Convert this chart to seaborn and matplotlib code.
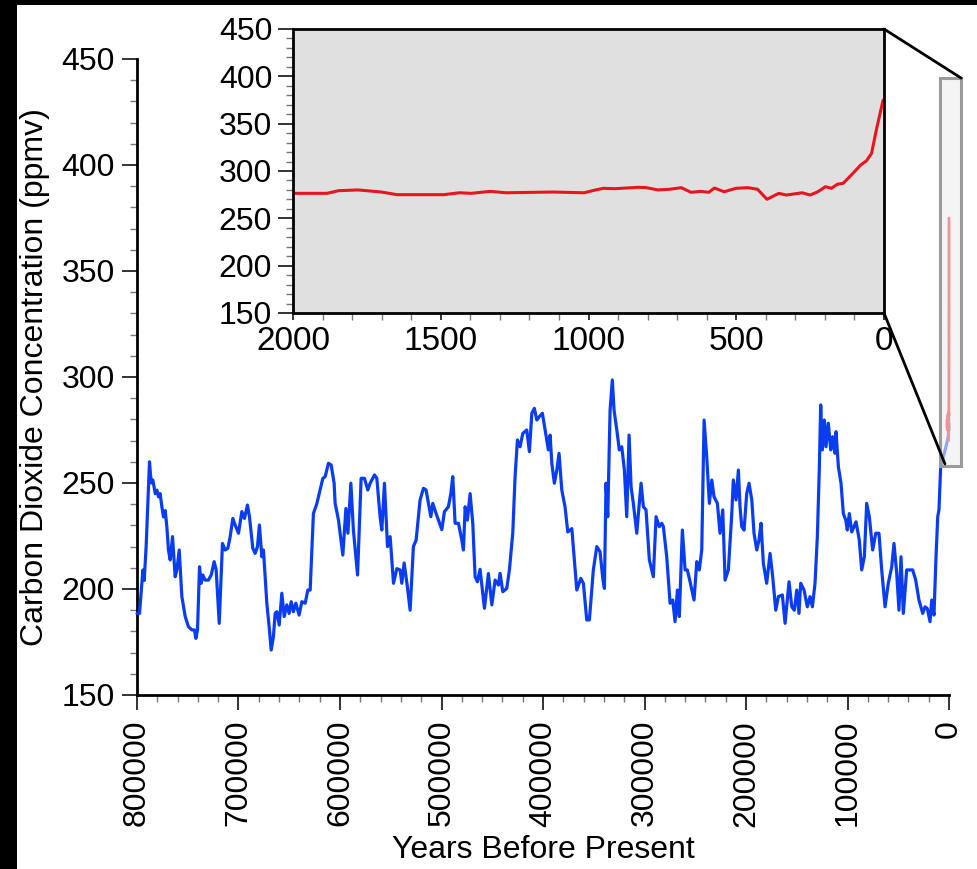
import numpy as np
import matplotlib
matplotlib.use("Agg")
import matplotlib.pyplot as plt
import seaborn as sns
from matplotlib.patches import Rectangle, ConnectionPatch
from matplotlib.ticker import MultipleLocator

# ---------------- data ----------------
# Ice core CO2 record (thousands of years before present, ppmv)
ice_kyr = [800.0, 797.5, 794.2, 792.9, 791.0, 787.7, 786.0, 784.4, 782.0, 780.4, 778.8, 777.2,
           775.5, 773.9, 772.2, 770.6, 769.0, 767.3, 765.0, 762.4, 760.7, 758.4, 755.8, 752.5,
           749.3, 745.9, 743.4, 742.0, 740.4, 738.4, 736.8, 735.1, 732.9, 729.6, 726.9, 724.0,
           722.0, 719.0, 715.8, 713.1, 710.5, 708.2, 705.6, 703.3, 700.0, 696.7, 694.1, 691.2,
           689.2, 685.9, 683.6, 681.3, 679.4, 677.0, 675.4, 672.1, 669.5, 667.8, 665.6, 663.9,
           662.2, 659.9, 657.3, 655.0, 652.4, 650.1, 648.1, 645.9, 643.5, 640.3, 637.6, 634.3,
           631.7, 629.4, 626.2, 622.8, 619.6, 616.9, 614.6, 611.4, 608.7, 605.8, 604.8, 601.5,
           597.2, 594.2, 592.2, 589.3, 586.8, 582.7, 579.2, 575.9, 572.6, 570.3, 566.0, 563.7,
           560.5, 558.8, 556.2, 553.2, 550.6, 547.3, 544.0, 540.8, 539.1, 536.8, 533.6, 530.9,
           527.7, 525.0, 521.1, 517.8, 515.2, 512.9, 510.5, 508.6, 505.3, 499.7, 497.1, 493.2,
           490.8, 488.9, 486.6, 483.3, 480.0, 478.4, 476.7, 474.5, 471.8, 469.2, 466.9, 464.6,
           462.0, 457.7, 453.8, 450.4, 447.2, 443.9, 442.3, 439.6, 435.7, 433.1, 429.8, 427.5,
           425.2, 422.6, 419.9, 416.0, 413.4, 411.0, 408.5, 406.1, 403.6, 400.6, 397.9, 394.7,
           393.0, 391.3, 388.8, 386.4, 384.2, 381.5, 378.3, 375.6, 371.6, 366.7, 362.8, 360.2,
           356.9, 354.3, 350.4, 347.0, 343.8, 341.1, 339.5, 337.9, 336.2, 333.9, 331.7, 330.0,
           327.3, 324.8, 322.4, 319.8, 317.5, 315.2, 313.2, 311.0, 307.6, 306.0, 303.4, 301.1,
           298.5, 295.2, 291.3, 288.6, 285.4, 283.0, 281.4, 278.1, 274.8, 272.2, 269.9, 267.6,
           265.7, 262.7, 260.0, 257.8, 255.1, 251.2, 248.5, 246.0, 243.6, 241.3, 238.7, 236.1,
           233.7, 231.5, 228.2, 225.6, 222.9, 220.6, 217.4, 214.0, 212.5, 209.8, 207.5, 205.9,
           204.2, 201.9, 199.3, 197.0, 194.3, 192.1, 189.4, 187.2, 185.2, 182.9, 179.6, 176.3,
           173.7, 170.7, 168.1, 164.2, 161.5, 157.6, 154.9, 152.4, 150.0, 147.8, 146.1, 142.8,
           139.6, 136.9, 134.6, 132.0, 129.7, 127.8, 126.4, 124.8, 122.8, 121.2, 118.9, 116.5,
           114.6, 112.3, 111.3, 109.0, 106.4, 104.1, 101.7, 100.2, 98.2, 95.8, 91.6, 88.4,
           86.0, 83.4, 81.1, 78.5, 75.2, 72.2, 69.0, 66.3, 63.0, 59.8, 56.4, 54.2,
           51.5, 49.3, 47.3, 45.0, 41.7, 35.8, 32.8, 29.6, 25.9, 23.6, 21.4, 18.7,
           17.0, 14.8, 12.8, 11.1, 9.9, 8.2, 5.6, 3.0, 0.7, 0.2]
ice_ppm = [188.5, 188.5, 209.0, 204.0, 220.0, 260.0, 250.0, 251.4, 245.0, 246.6, 243.5, 245.0,
           238.8, 234.0, 237.0, 229.4, 218.4, 213.7, 224.7, 205.8, 209.0, 218.4, 196.4, 187.0,
           182.2, 180.7, 180.7, 176.7, 180.7, 210.5, 202.7, 206.6, 204.2, 204.2, 206.6, 212.9,
           209.0, 183.8, 221.5, 218.4, 219.2, 224.7, 233.3, 230.2, 226.3, 236.5, 233.3, 239.6,
           234.1, 219.2, 216.8, 220.0, 230.2, 215.2, 218.4, 193.3, 180.7, 171.2, 177.5, 188.5,
           189.3, 183.0, 198.0, 187.0, 192.5, 188.5, 194.0, 189.3, 193.3, 187.7, 194.0, 193.3,
           199.5, 199.5, 235.6, 240.3, 246.7, 252.2, 253.0, 259.3, 258.5, 249.9, 240.4, 232.5,
           216.0, 238.0, 226.3, 249.9, 227.8, 206.6, 252.2, 252.2, 246.7, 249.9, 253.8, 252.2,
           234.1, 227.8, 249.9, 220.0, 224.7, 202.7, 209.6, 209.0, 202.7, 212.3, 201.0, 190.0,
           220.0, 223.1, 242.0, 247.5, 246.7, 240.4, 234.1, 240.4, 235.6, 228.0, 236.5, 238.8,
           245.0, 253.0, 231.0, 231.0, 223.1, 218.4, 238.8, 232.5, 245.0, 231.0, 205.8, 203.4,
           209.3, 190.9, 207.3, 192.5, 204.2, 201.9, 207.4, 198.7, 200.3, 209.0, 226.3, 253.0,
           270.3, 267.1, 273.4, 275.0, 264.8, 282.9, 285.2, 279.7, 281.3, 282.9, 275.0, 265.6,
           272.6, 259.3, 249.9, 256.1, 264.0, 246.7, 238.8, 226.9, 228.5, 199.5, 205.0, 202.7,
           185.4, 185.4, 209.0, 220.0, 217.6, 205.0, 200.3, 249.9, 234.1, 284.4, 298.6, 284.4,
           275.0, 265.6, 267.1, 256.1, 234.1, 272.6, 248.1, 240.4, 226.3, 235.6, 249.9, 238.8,
           237.3, 213.7, 205.8, 234.1, 229.4, 231.0, 229.4, 215.2, 193.3, 194.8, 184.6, 199.5,
           187.0, 227.8, 209.0, 209.0, 203.4, 194.8, 212.9, 209.0, 218.4, 279.7, 262.4, 240.4,
           251.4, 243.5, 240.4, 226.3, 237.3, 204.2, 209.0, 235.6, 251.4, 242.0, 256.1, 238.8,
           229.4, 227.8, 245.0, 249.9, 242.0, 226.3, 218.4, 223.1, 231.0, 212.1, 202.7, 216.8,
           205.8, 190.0, 196.4, 197.2, 183.8, 203.4, 191.6, 190.0, 199.5, 188.5, 202.7, 199.5,
           191.6, 196.4, 191.6, 202.7, 224.7, 256.1, 286.8, 265.6, 279.7, 267.1, 278.2, 265.6,
           271.8, 264.0, 274.2, 257.7, 249.9, 235.6, 232.5, 227.8, 235.6, 226.9, 231.7, 223.1,
           209.0, 215.2, 240.4, 234.1, 218.4, 226.3, 226.3, 209.0, 191.6, 202.7, 210.5, 221.5,
           207.4, 190.0, 215.2, 188.5, 209.0, 209.0, 204.2, 194.8, 188.5, 191.6, 190.8, 184.6,
           194.8, 187.7, 215.2, 234.1, 237.3, 257.7, 262.4, 267.1, 271.8, 278.0]

# Last 2000 years (years before present, ppmv)
recent_years = [2000, 1885, 1846, 1780, 1701, 1648, 1490, 1437, 1397, 1332, 1279, 1121,
                1015, 976, 949, 910, 831, 804, 765, 725, 686, 653, 620, 593,
                574, 541, 501, 461, 428, 396, 356, 330, 277, 250, 224, 198,
                178, 158, 138, 105, 79, 59, 42, 26, 3]
recent_ppm = [276.4, 276.4, 279.2, 280.0, 277.8, 275.0, 275.0, 277.0, 276.4, 278.5, 277.0, 277.8,
              277.0, 280.0, 281.7, 281.3, 282.8, 282.4, 280.0, 280.7, 282.4, 277.5, 278.5, 277.5,
              282.0, 278.1, 281.7, 282.4, 280.7, 270.1, 276.4, 274.6, 277.0, 274.6, 278.1, 283.4,
              281.7, 286.0, 287.0, 297.6, 306.3, 310.9, 318.7, 343.3, 375.0]

main_xticks = [800000, 700000, 600000, 500000, 400000, 300000, 200000, 100000, 0]
main_yticks = [150, 200, 250, 300, 350, 400, 450]
inset_xticks = [2000, 1500, 1000, 500, 0]

ice_years = np.array(ice_kyr) * 1000.0

# ---------------- style ----------------
sns.set_style("ticks")
plt.rcParams['font.family'] = ['Liberation Sans', 'DejaVu Sans']
plt.rcParams['text.color'] = 'black'
plt.rcParams['axes.labelcolor'] = 'black'
plt.rcParams['xtick.labelcolor'] = 'black'
plt.rcParams['ytick.labelcolor'] = 'black'

BLUE = "#0a3df0"
RED = "#e8141e"
FS = 23

W, H = 977, 869
fig = plt.figure(figsize=(W / 100, H / 100), dpi=100)
fig.patch.set_facecolor("black")
fig.add_artist(Rectangle((17 / W, 0), 1, (H - 5) / H, transform=fig.transFigure,
                         facecolor="white", edgecolor="none", zorder=-10))

def fx(px):
    return px / W

def fy(py):
    return 1 - py / H

# ---------------- main axes ----------------
ax = fig.add_axes([fx(137), fy(695), fx(949) - fx(137), fy(59) - fy(695)])
ax.set_facecolor("white")
sns.lineplot(x=ice_years, y=ice_ppm, ax=ax, color=BLUE, lw=2.3,
             estimator=None, sort=False, zorder=3)
sns.lineplot(x=np.array(recent_years, dtype=float), y=recent_ppm, ax=ax, color=RED,
             lw=2.0, estimator=None, sort=False, zorder=3)
for ln in ax.get_lines():
    ln.set_clip_on(False)

ax.set_xlim(800000, 0)
ax.set_ylim(150, 450)
ax.set_xticks(main_xticks)
ax.set_xticklabels([str(t) for t in main_xticks], rotation=90, fontsize=FS)
ax.set_yticks(main_yticks)
ax.set_yticklabels([str(t) for t in main_yticks], fontsize=FS)
ax.xaxis.set_minor_locator(MultipleLocator(20000))
ax.yaxis.set_minor_locator(MultipleLocator(10))
ax.tick_params(which="major", length=11, width=1.4, color="#333333", labelcolor="black")
ax.tick_params(axis="y", which="major", pad=5)
ax.tick_params(axis="x", which="major", pad=7)
ax.tick_params(which="minor", length=5, width=1.0, color="#777777")
sns.despine(ax=ax)
for s in ("left", "bottom"):
    ax.spines[s].set_linewidth(2)
    ax.spines[s].set_color("black")
ax.set_xlabel("Years Before Present", fontsize=FS, labelpad=6, color="black")
ax.set_ylabel("Carbon Dioxide Concentration (ppmv)", fontsize=FS, labelpad=8, color="black")

# zoom marker rectangle
ax.add_patch(Rectangle((-12000, 258), 21000, 183, facecolor=(0.93, 0.93, 0.93, 0.6),
                       edgecolor="#9a9a9a", lw=2.2, clip_on=False, zorder=5))

# ---------------- inset axes ----------------
axin = fig.add_axes([fx(293), fy(313), fx(884) - fx(293), fy(29) - fy(313)], zorder=10)
axin.set_facecolor("#e0e0e0")
sns.lineplot(x=recent_years, y=recent_ppm, ax=axin, color=RED, lw=2.2,
             estimator=None, sort=False)
axin.set_xlim(2000, 0)
axin.set_ylim(150, 450)
axin.set_xticks(inset_xticks)
axin.set_xticklabels([str(t) for t in inset_xticks], fontsize=24)
axin.set_yticks(main_yticks)
axin.set_yticklabels([str(t) for t in main_yticks], fontsize=FS)
axin.xaxis.set_minor_locator(MultipleLocator(100))
axin.yaxis.set_minor_locator(MultipleLocator(10))
axin.tick_params(which="major", length=11, width=1.4, color="#333333", pad=4, labelcolor="black")
axin.tick_params(axis="x", which="major", length=5, pad=4)
axin.tick_params(which="minor", length=5, width=1.0, color="#777777")
for s in axin.spines.values():
    s.set_linewidth(2)
    s.set_color("black")
    s.set_visible(True)
axin.set_xlabel("")
axin.set_ylabel("")

# connector lines
for xyA, xyB in [((1, 1), (-12000, 441)), ((1, 0), (4000, 259))]:
    cp = ConnectionPatch(xyA=xyA, coordsA=axin.transAxes, xyB=xyB, coordsB=ax.transData,
                         color="black", lw=2)
    cp.set_zorder(20)
    fig.add_artist(cp)

fig.savefig("out.png", dpi=100, facecolor=fig.get_facecolor())
